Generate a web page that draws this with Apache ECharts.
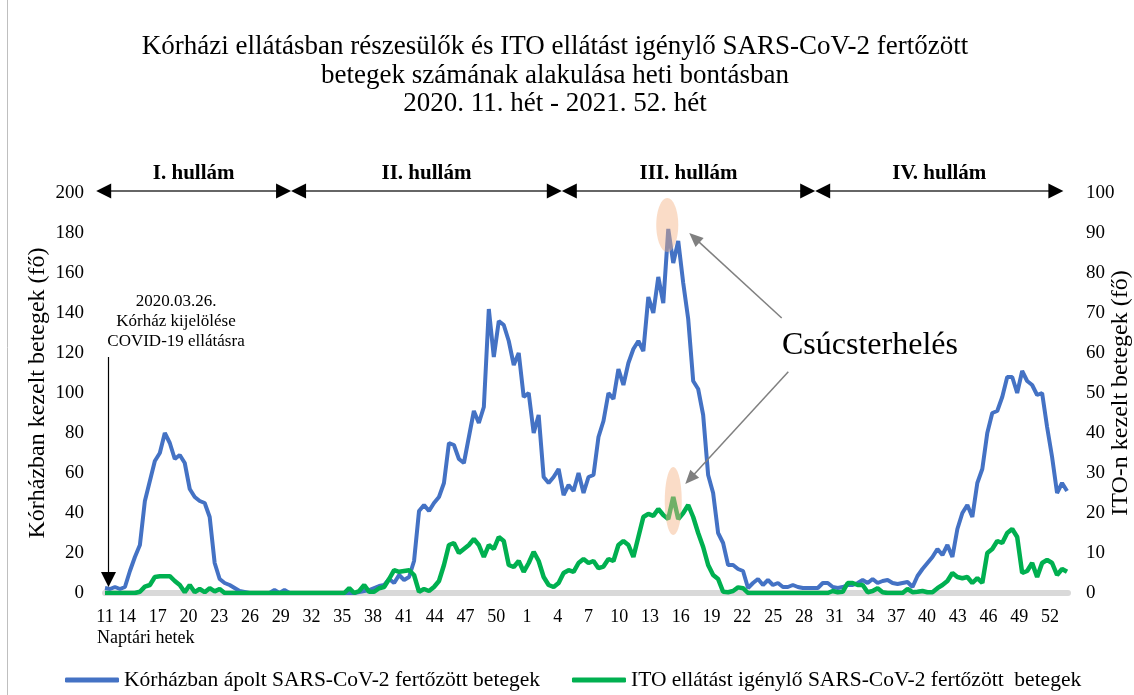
<!DOCTYPE html>
<html>
<head>
<meta charset="utf-8">
<script src="https://cdn.jsdelivr.net/npm/echarts@6/dist/echarts.min.js"></script>
<style>html,body{margin:0;padding:0;background:#fff}#c{width:1134px;height:695px}</style>
</head>
<body>
<div id="c"></div>
<script>
// ---- data ----
// x: weeks counted from the start of 2020 week 11; samples every STEP weeks starting at START
const START = 0.858;
const STEP = 0.486;
const tickLabels = ['11','14','17','20','23','26','29','32','35','38','41','44','47','50','1','4','7','10','13','16','19','22','25','28','31','34','37','40','43','46','49','52'];
// hospitalised patients (left axis)
const hospital = [
  2.5,2,3,2,3,11,18,24,46,56,
  66,70,80,75,67,69,65,52,48,46,
  45,38,15,7,5,4,2.5,1,0.5,0,
  0,0,0,0,1.5,0,1.5,0,0,0,
  0,0,0,0,0,0,0,0,0,0,
  0,0.5,1,1.5,2.5,3.5,4,7,5,9,
  6.5,8,16,41,44,41,45,48,55,75,
  74,67,65,78,91,85,93,142,118,136,
  134,126,114,120,98,100,80,89,58,55,
  58,62,49,54,51,60,50,58,59,78,
  86,100,97,112,104,115,122,126,121,148,
  140,158,145,182,165,176,155,137,106,102,
  89,59,50,30,25,14,14,12,11,2.5,
  5,7,4,6.5,4,5,3,3,4,3,
  2.5,2.5,2.5,2.5,5,5,3,2.5,3,4,
  4,5,6.5,5,7,5,6,6.5,5,4.5,
  5,5.5,3,8.5,12,15,18,22,19,24,
  18,32,40,44,38,55,62,80,90,91,
  98,108,108,100,111,106,104,99,100,83,
  68,50,55,51
];
// ICU patients (right axis)
const icu = [
  0,0,0,0,0,0,0,0.3,1.6,2,
  4,4.2,4.2,4.2,3,2,0.2,2,0.2,1,
  0.2,1.2,0.4,1,0,0,0,0,0,0,
  0,0,0,0,0,0,0,0,0,0,
  0,0,0,0,0,0,0,0,0,1.2,
  0,0.5,2,0.3,0.3,1.2,1.5,3.5,5.7,5.3,
  5.5,5.7,4.5,0.3,1,0.5,1.5,3,7,12,
  12.5,10,11,12,13.5,12,9,12,11,14,
  13,7,6.5,8,5.3,7.5,10.3,8,4,2,
  1.5,2.5,5,5.7,5.3,7.5,8.5,7.5,8,6.2,
  6.6,8.5,8,12,13,12,9,14,19,19.8,
  19.3,21,19.5,18.5,24,18.5,20,22,19,15,
  11.5,7,4.5,3.5,0.3,0.2,0.5,1.4,1.2,0,
  0,0,0,0,0,0,0,0,0,0,
  0,0,0,0,0,0,0.5,0.2,0.3,2.5,
  2.5,2,2,0.2,0.5,1.2,0.2,0,0,0,
  0,1,0.2,0.3,0.5,0.2,0.2,1.2,2,3,
  5,4,3.7,4,2.5,3.7,2.5,10,11,13,
  12.5,15,16,14,5,5.5,7.5,4,7.5,8.3,
  7.5,4.5,6,5.3
];
const waveNames = ['I. hullám','II. hullám','III. hullám','IV. hullám'];
const waveBounds = [0, 19, 45.4, 70.1, 94.3];
const seriesNames = ['Kórházban ápolt SARS-CoV-2 fertőzött betegek', 'ITO ellátást igénylő SARS-CoV-2 fertőzött  betegek'];

// ---- build ----
const FONT = '"Liberation Serif", "Times New Roman", serif';
const tickValues = tickLabels.map((_, i) => i === 0 ? START : i * 3);
const hospData = hospital.map((v, i) => [START + i * STEP, v]);
const icuData = icu.map((v, i) => [START + i * STEP, v]);

const chart = echarts.init(document.getElementById('c'));
const option = {
  animation: false,
  backgroundColor: '#fff',
  grid: { left: 105, right: 66, top: 193, bottom: 102, outerBoundsMode: 'none', containLabel: false },
  xAxis: {
    type: 'value', min: START, max: 94.75,
    offset: 2,
    axisLine: { show: true, lineStyle: { color: '#D9D9D9', width: 6 } },
    axisTick: { show: false },
    splitLine: { show: false },
    axisLabel: {
      customValues: tickValues,
      formatter: function (v) {
        const i = tickValues.findIndex(t => Math.abs(t - v) < 1e-6);
        return i >= 0 ? tickLabels[i] : '';
      },
      fontFamily: FONT, fontSize: 18, color: '#000', margin: 13
    }
  },
  yAxis: [
    {
      type: 'value', min: 0, max: 200, interval: 20,
      axisLine: { show: false }, axisTick: { show: false }, splitLine: { show: false },
      axisLabel: { fontFamily: FONT, fontSize: 19, color: '#000', margin: 21 },
      name: 'Kórházban kezelt betegek (fő)', nameLocation: 'middle', nameGap: 55, nameRotate: 90,
      nameMoveOverlap: false,
      nameTextStyle: { fontFamily: FONT, fontSize: 24, color: '#000' }
    },
    {
      type: 'value', min: 0, max: 100, interval: 10, position: 'right',
      axisLine: { show: false }, axisTick: { show: false }, splitLine: { show: false },
      axisLabel: { fontFamily: FONT, fontSize: 19, color: '#000', margin: 18 },
      name: 'ITO-n kezelt betegek (fő)', nameLocation: 'middle', nameGap: 41, nameRotate: 90,
      nameMoveOverlap: false,
      nameTextStyle: { fontFamily: FONT, fontSize: 24, color: '#000' }
    }
  ],
  legend: {
    left: 65, top: 669, padding: 0, itemWidth: 54, itemHeight: 5, itemGap: 32, icon: 'roundRect',
    textStyle: { fontFamily: FONT, fontSize: 21.5, color: '#000' },
    data: seriesNames
  },
  series: [
    { name: seriesNames[0], type: 'line', data: hospData, showSymbol: false, yAxisIndex: 0,
      lineStyle: { color: '#4472C4', width: 4 }, itemStyle: { color: '#4472C4' } },
    { name: seriesNames[1], type: 'line', data: icuData, showSymbol: false, yAxisIndex: 1,
      lineStyle: { color: '#00B050', width: 4.5 }, itemStyle: { color: '#00B050' } }
  ]
};
chart.setOption(option);

// ---- annotations ----
function px(w, v, ax) { return chart.convertToPixel({ xAxisIndex: 0, yAxisIndex: ax || 0 }, [w, v]); }
function arrowHead(x1, y1, x2, y2, len, half, color) {
  const dx = x2 - x1, dy = y2 - y1, L = Math.hypot(dx, dy);
  const ux = dx / L, uy = dy / L, bx = x2 - ux * len, by = y2 - uy * len;
  return { type: 'polygon', z: 50, shape: { points: [[x2, y2], [bx - uy * half, by + ux * half], [bx + uy * half, by - ux * half]] }, style: { fill: color } };
}
function arrow(x1, y1, x2, y2, color, lw, len, half) {
  const dx = x2 - x1, dy = y2 - y1, L = Math.hypot(dx, dy);
  const ex = x2 - dx / L * len * 0.8, ey = y2 - dy / L * len * 0.8;
  return [
    { type: 'line', z: 50, shape: { x1: x1, y1: y1, x2: ex, y2: ey }, style: { stroke: color, lineWidth: lw } },
    arrowHead(x1, y1, x2, y2, len, half, color)
  ];
}
const g = [];
// frame
g.push({ type: 'line', shape: { x1: 7.5, y1: 0, x2: 7.5, y2: 695 }, style: { stroke: '#BFBFBF', lineWidth: 1 } });
// title
g.push({ type: 'text', x: 555, y: 75.5, style: {
  text: 'Kórházi ellátásban részesülők és ITO ellátást igénylő SARS-CoV-2 fertőzött\nbetegek számának alakulása heti bontásban\n2020. 11. hét - 2021. 52. hét',
  align: 'center', verticalAlign: 'middle', font: '27px ' + FONT, lineHeight: 28.5, fill: '#000' } });
// x axis title
g.push({ type: 'text', x: 97, y: 638, style: { text: 'Naptári hetek', align: 'left', verticalAlign: 'middle', font: '18px ' + FONT, fill: '#000' } });
// waves
const wy = px(0, 200)[1] - 2;
for (let i = 0; i < waveNames.length; i++) {
  const xa = px(waveBounds[i], 0)[0], xb = px(waveBounds[i + 1], 0)[0];
  g.push({ type: 'line', z: 50, shape: { x1: xa + 10, y1: wy, x2: xb - 10, y2: wy }, style: { stroke: '#333', lineWidth: 1.5 } });
  g.push(arrowHead(xb, wy, xa, wy, 15, 7.5, '#000'));
  g.push(arrowHead(xa, wy, xb, wy, 15, 7.5, '#000'));
  g.push({ type: 'text', x: (xa + xb) / 2, y: wy - 17, style: { text: waveNames[i], align: 'center', verticalAlign: 'middle', font: 'bold 21px ' + FONT, fill: '#000' } });
}
// hospital designation
g.push({ type: 'text', x: 176, y: 322, style: { text: '2020.03.26.\nKórház kijelölése\nCOVID-19 ellátásra', align: 'center', verticalAlign: 'middle', font: '17px ' + FONT, lineHeight: 20, fill: '#000' } });
g.push(...arrow(108.5, 357, 108.5, 587, '#000', 1.2, 15, 7.5));
// peaks
const hi = hospital.indexOf(Math.max(...hospital));
const ii = icu.indexOf(Math.max(...icu));
const hp = px(START + hi * STEP, hospital[hi], 0);
const ip = px(START + ii * STEP, icu[ii], 1);
g.push({ type: 'ellipse', z: 40, shape: { cx: hp[0] - 1, cy: hp[1] - 4, rx: 11, ry: 27 }, style: { fill: 'rgba(244,177,131,0.45)' } });
g.push({ type: 'ellipse', z: 40, shape: { cx: ip[0], cy: ip[1] + 4, rx: 8.5, ry: 34 }, style: { fill: 'rgba(244,177,131,0.45)' } });
g.push({ type: 'text', x: 870, y: 346, style: { text: 'Csúcsterhelés', align: 'center', verticalAlign: 'middle', font: '32px ' + FONT, fill: '#000' } });
g.push(...arrow(781.7, 318, hp[0] + 21, hp[1] + 4, '#808080', 1.5, 14, 6));
g.push(...arrow(788.3, 371.7, ip[0] + 12, ip[1] - 13, '#808080', 1.5, 14, 6));
chart.setOption({ graphic: { elements: g } });
</script>
</body>
</html>
